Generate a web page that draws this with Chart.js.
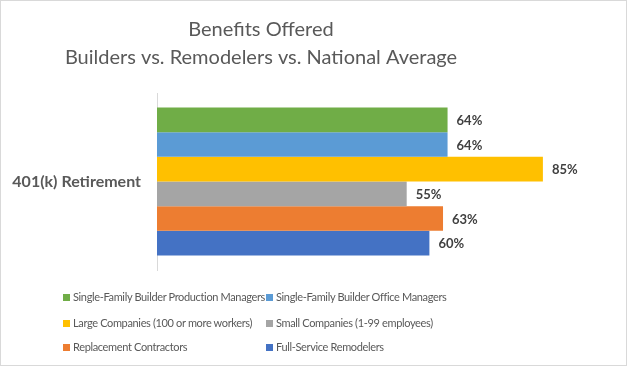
<!DOCTYPE html>
<html>
<head>
<meta charset="utf-8">
<script src="https://cdn.jsdelivr.net/npm/chart.js@4/dist/chart.umd.min.js"></script>
<style>
  html, body { margin: 0; padding: 0; background: #fff; }
  #wrap { position: relative; width: 627px; height: 366px; overflow: hidden; }
  #frame { position: absolute; left: 0; top: 0; width: 627px; height: 366px; box-sizing: border-box; border: 1px solid #d9d9d9; pointer-events: none; }
  #legend { position: absolute; left: 0; top: 0; width: 627px; height: 366px; pointer-events: none; font-family: Lato, "Open Sans", sans-serif; font-size: 11px; letter-spacing: -0.35px; color: #595959; }
  .item { position: absolute; white-space: nowrap; line-height: 14px; }
  .sw { display: inline-block; width: 7px; height: 7px; margin-right: 3px; vertical-align: 0px; }
</style>
</head>
<body>
<div id="wrap">
  <canvas id="c" width="627" height="366"></canvas>
  <div id="legend"></div>
  <div id="frame"></div>
</div>
<script>
// ---- data ----
const categories = ['401(k) Retirement'];
const seriesNames = [
  'Single-Family Builder Production Managers',
  'Single-Family Builder Office Managers',
  'Large Companies (100 or more workers)',
  'Small Companies (1-99 employees)',
  'Replacement Contractors',
  'Full-Service Remodelers'
];
const productionManagers = [64];
const officeManagers = [64];
const largeCompanies = [85];
const smallCompanies = [55];
const replacementContractors = [63];
const fullServiceRemodelers = [60];
const seriesValues = [productionManagers, officeManagers, largeCompanies, smallCompanies, replacementContractors, fullServiceRemodelers];
const titleLines = ['Benefits Offered', 'Builders vs. Remodelers vs. National Average'];

// ---- styles ----
const seriesColors = ['#70AD47', '#5B9BD5', '#FFC000', '#A5A5A5', '#ED7D31', '#4472C4'];
const FONT = 'Lato, "Open Sans", sans-serif';

const titlePlugin = {
  id: 'offsetTitle',
  afterDraw(chart) {
    const ctx = chart.ctx;
    ctx.save();
    ctx.font = '20px ' + FONT;
    ctx.fillStyle = '#595959';
    ctx.textAlign = 'center';
    ctx.textBaseline = 'middle';
    const cx = 261;
    titleLines.forEach((line, i) => ctx.fillText(line, cx, 30 + i * 28));
    ctx.restore();
  }
};

const valueLabels = {
  id: 'valueLabels',
  afterDatasetsDraw(chart) {
    const ctx = chart.ctx;
    ctx.save();
    ctx.font = 'bold 13px ' + FONT;
    ctx.fillStyle = '#404040';
    ctx.textAlign = 'left';
    ctx.textBaseline = 'middle';
    chart.data.datasets.forEach((ds, i) => {
      const meta = chart.getDatasetMeta(i);
      meta.data.forEach((bar, j) => {
        ctx.fillText(ds.data[j] + '%', bar.x + 9, bar.y + 1);
      });
    });
    ctx.restore();
  }
};

const chart = new Chart(document.getElementById('c'), {
  type: 'bar',
  data: {
    labels: categories,
    datasets: seriesNames.map((name, i) => ({
      label: name,
      data: seriesValues[i],
      backgroundColor: seriesColors[i],
      borderWidth: 0,
      barPercentage: 1,
      categoryPercentage: 0.836
    }))
  },
  options: {
    indexAxis: 'y',
    responsive: false,
    animation: false,
    layout: { padding: { left: 0, right: 16, top: 93, bottom: 96 } },
    plugins: {
      legend: { display: false },
      tooltip: { enabled: false },
      title: { display: false }
    },
    scales: {
      x: { display: false, min: 0, max: 100 },
      y: {
        grid: { display: false, drawTicks: false },
        border: { display: true, color: '#d9d9d9', width: 1 },
        ticks: {
          color: '#595959',
          padding: 16,
          font: { family: FONT, size: 16, weight: 'bold' }
        },
        afterFit(scale) { scale.width = 157; }
      }
    }
  },
  plugins: [valueLabels, titlePlugin]
});

// HTML legend built from the chart's datasets (2 columns, 3 rows)
const legend = document.getElementById('legend');
const colX = [63, 266];
const rowY = [290, 316, 340];
chart.data.datasets.forEach((ds, i) => {
  const el = document.createElement('div');
  el.className = 'item';
  el.style.left = colX[i % 2] + 'px';
  el.style.top = rowY[Math.floor(i / 2)] + 'px';
  const sw = document.createElement('span');
  sw.className = 'sw';
  sw.style.background = ds.backgroundColor;
  el.appendChild(sw);
  el.appendChild(document.createTextNode(ds.label));
  legend.appendChild(el);
});
</script>
</body>
</html>
